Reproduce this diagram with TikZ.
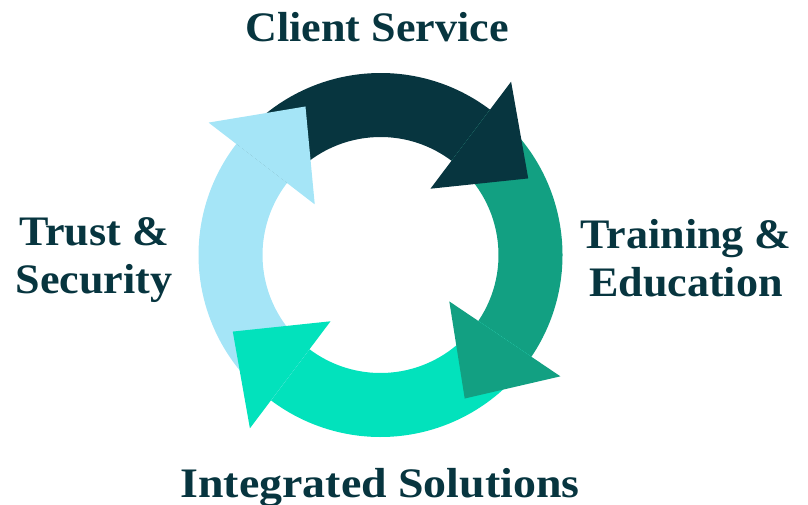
\documentclass[tikz,border=0pt]{standalone}
\usepackage{fontspec}
\setmainfont{Liberation Serif}[FakeStretch=1.05]
\definecolor{navy}{HTML}{07353F}
\definecolor{greenA}{HTML}{12A082}
\definecolor{turq}{HTML}{02E2BC}
\definecolor{lblue}{HTML}{A5E5F7}
\begin{document}
\begin{tikzpicture}[x=1pt,y=-1pt,
  lbl/.style={text=navy,font=\fontsize{42}{48}\selectfont\bfseries,align=center,anchor=base,inner sep=0pt}]
\useasboundingbox (0,0) rectangle (808,505);
\def\Rin{118}\def\Rout{182}
% body: #1 colour, #2 tail angle, #3 head base angle
\newcommand\ringbody[3]{%
  \fill[#1] (#2:\Rout) arc[start angle=#2,end angle=#3,radius=\Rout]
     -- (#3:\Rin) arc[start angle=#3,end angle=#2,radius=\Rin] -- cycle;}
\newcommand\ringhead[2]{%
  \fill[#1] (#2:217) -- (#2-25.6:166.4) -- (#2:83) -- cycle;}
\begin{scope}[shift={(380.5,255)},yscale=-1]
  \ringbody{navy}{142.4}{53}
  \ringbody{greenA}{53}{-34}
  \ringbody{turq}{-34}{-127}
  \ringbody{lblue}{233}{142.4}
  \ringhead{navy}{53}
  \ringhead{greenA}{-34}
  \ringhead{turq}{233}
  \ringhead{lblue}{142.4}
\end{scope}
\node[lbl] (cs) at (377,42) {Client Service};
\node[lbl] (ts) at (94,293) {Trust \&\\Security};
\node[lbl] (te) at (686,296) {Training \&\\Education};
\node[lbl] (is) at (380,497) {\scalebox{1.04}[1]{Integrated Solutions}};
\end{tikzpicture}
\end{document}
